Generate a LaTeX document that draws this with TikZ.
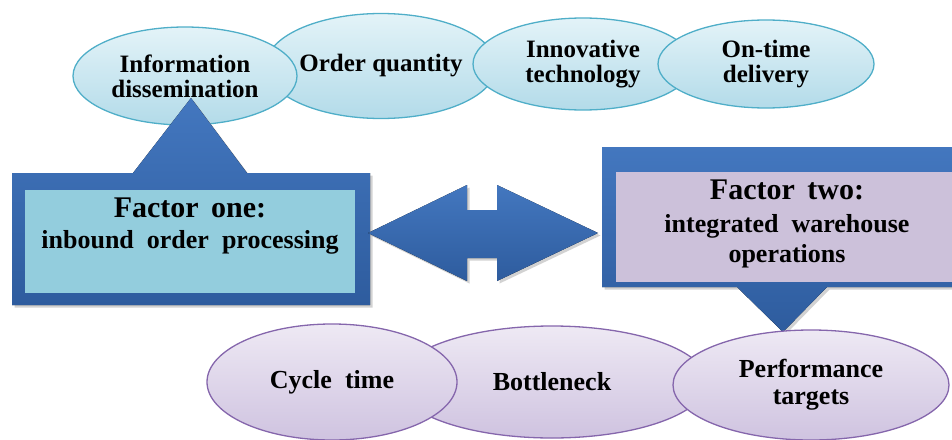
\documentclass[tikz,border=0pt]{standalone}
\usepackage{fontspec}
\setmainfont{Liberation Serif}
\usetikzlibrary{shapes.geometric,shadows,positioning}

\definecolor{boxblue}{HTML}{4377BF}
\definecolor{boxbluedark}{HTML}{2E5C9E}
\definecolor{tealfill}{HTML}{93CDDD}
\definecolor{lilacfill}{HTML}{CCC1DA}
\definecolor{skyline}{HTML}{4FAEC8}
\definecolor{skytop}{HTML}{E3F3F8}
\definecolor{skybottom}{HTML}{B3DBE9}
\definecolor{violetline}{HTML}{8566AC}
\definecolor{violettop}{HTML}{EEE9F4}
\definecolor{violetbottom}{HTML}{CFC3E0}

\tikzset{
  skyoval/.style={ellipse, draw=skyline, line width=1.3pt, top color=skytop,
    bottom color=skybottom, inner sep=0pt, align=center,
    font=\fontsize{25}{25}\selectfont\bfseries},
  violetoval/.style={ellipse, draw=violetline, line width=1.3pt, top color=violettop,
    bottom color=violetbottom, inner sep=0pt, align=center,
    font=\fontsize{26}{27}\selectfont\bfseries},
  bluecallout/.style={top color=boxblue, bottom color=boxbluedark,
    drop shadow={shadow xshift=2.5pt, shadow yshift=-2.5pt, fill=black!35}},
  innerbox/.style={rectangle, inner sep=0pt},
  boxtext/.style={align=center, inner sep=0pt, font=\fontsize{26}{31}\selectfont\bfseries}
}

\begin{document}
\begin{tikzpicture}[x=1pt, y=-1pt]
  \useasboundingbox (0,0) rectangle (952,439);
  \clip (0,0) rectangle (952,439);

  %Top ovals
  \node[skyoval, minimum width=226pt, minimum height=105pt] (order) at (381,66) {Order quantity};
  \node[skyoval, minimum width=224pt, minimum height=98pt] (info) at (185,76) {Information\\dissemination};
  \node[skyoval, minimum width=220pt, minimum height=92pt] (innov) at (583,64) {Innovative\\technology};
  \node[skyoval, minimum width=216pt, minimum height=88pt] (ontime) at (766,64) {On-time\\delivery};

  %Callout one
  \fill[bluecallout] (12,173) -- (133,173) -- (191,98) -- (247,173) -- (370,173)
    -- (370,305) -- (12,305) -- cycle;
  \node[innerbox, fill=tealfill, minimum width=330pt, minimum height=103pt] (f1) at (190,241.5) {};
  \node[boxtext, below=8pt of f1.north] (f1text)
    {{\fontsize{30}{30}\selectfont Factor\ \,one:}\\
     inbound\ \ order\ \ processing};

  %Callout two
  \fill[bluecallout] (602,147) -- (958,147) -- (958,287) -- (827,287) -- (783,332)
    -- (737,287) -- (602,287) -- cycle;
  \node[innerbox, fill=lilacfill, minimum width=342pt, minimum height=110pt] (f2) at (787,227) {};
  \node[boxtext, below=8pt of f2.north] (f2text)
    {{\fontsize{30}{30}\selectfont Factor\ \,two:}\\[2pt]
     integrated\ \ warehouse\\[-1pt]
     operations};

  %Double arrow
  \fill[bluecallout] (368,233) -- (467,185) -- (467,210) -- (497,210) -- (497,185)
    -- (598,233) -- (497,281) -- (497,258) -- (467,258) -- (467,281) -- cycle;

  %Bottom ovals
  \node[violetoval, minimum width=310pt, minimum height=112pt] (bneck) at (552,382) {Bottleneck};
  \node[violetoval, minimum width=250pt, minimum height=116pt] (cycle) at (332,382) {Cycle\ \ time};
  \node[violetoval, minimum width=276pt, minimum height=110pt] (perf) at (811,385) {Performance\\targets};
\end{tikzpicture}
\end{document}
